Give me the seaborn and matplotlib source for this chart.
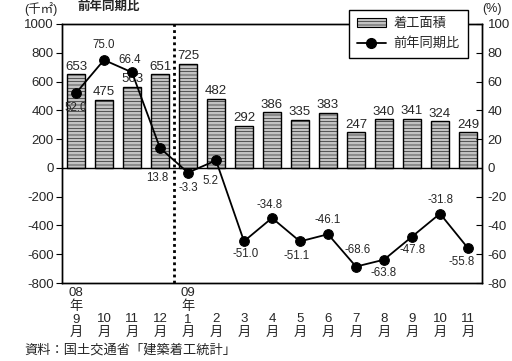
import numpy as np
import pandas as pd
import matplotlib
matplotlib.use("Agg")
import matplotlib.pyplot as plt
import seaborn as sns
from matplotlib.patches import Patch
from matplotlib.lines import Line2D

# Monthly housing starts floor area (thousand m2) and year-on-year change (%)
years = ["08", "", "", "", "09", "", "", "", "", "", "", "", "", "", ""]
months = ["9", "10", "11", "12", "1", "2", "3", "4", "5", "6", "7", "8", "9", "10", "11"]
area = [653, 475, 563, 651, 725, 482, 292, 386, 335, 383, 247, 340, 341, 324, 249]
yoy = [52.0, 75.0, 66.4, 13.8, -3.3, 5.2, -51.0, -34.8, -51.1, -46.1, -68.6, -63.8, -47.8, -31.8, -55.8]

# label offsets (pixels) for the percentage annotations
yoy_offsets = [(0, -15), (0, 15), (-2, 12), (-3, -30), (0, -15), (-6, -21), (2, -13), (-2, 13),
               (-3, -15), (0, 14), (2, 17), (0, -13), (1, -13), (0, 14), (-6, -14)]

sns.set_theme(style="white")
plt.rcParams["font.family"] = ["Liberation Sans", "Noto Sans CJK JP"]
plt.rcParams["hatch.linewidth"] = 0.4
plt.rcParams["axes.unicode_minus"] = False

tick_labels = [f"{y}\n年\n{m}\n月" if y else f"\n\n{m}\n月" for y, m in zip(years, months)]
df = pd.DataFrame({"pos": np.arange(len(area)), "area": area, "yoy": yoy})

fig = plt.figure(figsize=(5.12, 3.61), dpi=100)
ax = fig.add_axes([62 / 512, 1 - 283 / 361, 420 / 512, 259 / 361])

bar_color = "#c2c2c2"
sns.barplot(data=df, x="pos", y="area", color=bar_color, saturation=1, width=0.65,
            edgecolor="black", linewidth=1.0, hatch="-----", ax=ax)
ax.bar_label(ax.containers[0], labels=[str(v) for v in area], padding=1, fontsize=9.5)

ax.set_xlim(-0.5, len(area) - 0.5)
ax.set_ylim(-800, 1000)
ax.set_yticks(range(-800, 1001, 200))
ax.axhline(0, color="black", lw=1.0, zorder=1)
ax.axvline(3.5, color="black", lw=2.0, linestyle=(0, (1, 1.2)), zorder=3)
ax.set_xticks(range(len(area)))
ax.set_xticklabels(tick_labels, fontsize=9.5, linespacing=1.12)
ax.tick_params(axis="x", length=0, pad=3)
ax.tick_params(axis="y", direction="out", length=4, width=0.8, labelsize=9.5, pad=2, left=True, color="black")
ax.set_xlabel("")
ax.set_ylabel("")

ax2 = ax.twinx()
sns.lineplot(data=df, x="pos", y="yoy", color="black", lw=1.3, marker="o", markersize=7,
             markeredgecolor="black", ax=ax2)
ax2.set_ylim(-80, 100)
ax2.set_yticks(range(-80, 101, 20))
ax2.tick_params(axis="y", direction="in", length=4, width=0.8, labelsize=9.5, pad=4, right=True, color="black")
ax2.set_xlabel("")
ax2.set_ylabel("")
for x, v, (dx, dy) in zip(df["pos"], yoy, yoy_offsets):
    ax2.annotate(f"{v:.1f}", (x, v), xytext=(dx, dy), textcoords="offset pixels",
                 ha="center", va="center", fontsize=8.3)

for a in (ax, ax2):
    for s in a.spines.values():
        s.set_visible(True)
        s.set_color("black")
        s.set_linewidth(1.0)

handles = [Patch(facecolor=bar_color, edgecolor="black", hatch="-----", linewidth=0.8),
           Line2D([], [], color="black", lw=1.3, marker="o", markersize=7)]
fig.legend(handles=handles, labels=["着工面積", "前年同期比"], loc="upper left",
           bbox_to_anchor=(342 / 512, 1 - 3 / 361), frameon=True, fancybox=False,
           edgecolor="black", framealpha=1, fontsize=9.5, handlelength=2.2,
           labelspacing=0.6, borderpad=0.6, handletextpad=0.6)

fig.text(24 / 512, 1 - 9 / 361, "(千㎡)", fontsize=9, va="center", ha="left")
fig.text(482 / 512, 1 - 9 / 361, "(%)", fontsize=9, va="center", ha="left")
fig.text(78 / 512, 1 - 1 / 361, "前年同期比", fontsize=9, fontweight="bold", va="top", ha="left")
fig.text(24 / 512, 1 - 350 / 361, "資料：国土交通省「建築着工統計」", fontsize=9.5, va="center", ha="left")

fig.savefig("out.png", dpi=100)
